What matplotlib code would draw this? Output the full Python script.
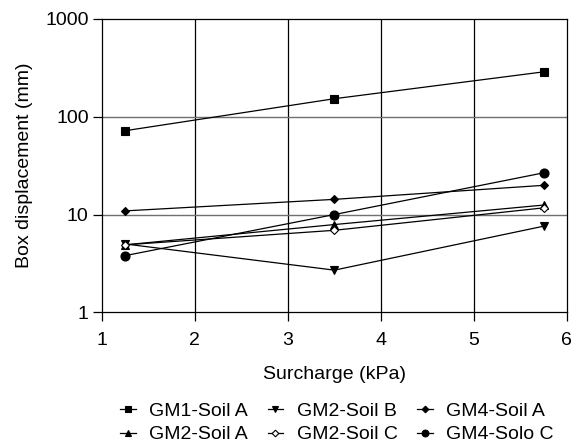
import matplotlib
matplotlib.use("Agg")
import matplotlib.pyplot as plt
from matplotlib.ticker import FixedLocator, NullLocator

plt.rcParams['font.family'] = ['Liberation Sans', 'DejaVu Sans']

surcharge = [1.25, 3.5, 5.75]
gm1_soil_a = [72, 153, 288]
gm2_soil_b = [5.0, 2.7, 7.6]
gm4_soil_a = [10.9, 14.3, 19.9]
gm2_soil_a = [4.9, 7.9, 12.5]
gm2_soil_c = [4.9, 6.9, 11.7]
gm4_solo_c = [3.8, 10.0, 26.7]

series = {
    "GM1-Soil A": (gm1_soil_a, dict(marker='s', markersize=6, mfc='black')),
    "GM2-Soil B": (gm2_soil_b, dict(marker='v', markersize=6, mfc='black')),
    "GM4-Soil A": (gm4_soil_a, dict(marker='D', markersize=4.5, mfc='black')),
    "GM2-Soil A": (gm2_soil_a, dict(marker='^', markersize=6, mfc='black')),
    "GM2-Soil C": (gm2_soil_c, dict(marker='D', markersize=4.5, mfc='white')),
    "GM4-Solo C": (gm4_solo_c, dict(marker='o', markersize=6.5, mfc='black')),
}
legend_order = ["GM1-Soil A", "GM2-Soil A", "GM2-Soil B",
                "GM2-Soil C", "GM4-Soil A", "GM4-Solo C"]

x_ticks = [1, 2, 3, 4, 5, 6]
y_ticks = [1, 10, 100, 1000]
y_tick_labels = ["1", "10", "100", "1000"]

FS = 14

fig = plt.figure(figsize=(5.79, 4.47), dpi=100)
ax = fig.add_axes([0.176, 0.3013, 0.803, 0.6562])

ax.set_yscale('log')
ax.set_xlim(1, 6)
ax.set_ylim(1, 1000)

handles = {}
for lbl, (vals, st) in series.items():
    h, = ax.plot(surcharge, vals, color='black', lw=0.9, mec='black', mew=0.8,
                 label=lbl, zorder=3, **st)
    handles[lbl] = h

ax.xaxis.set_major_locator(FixedLocator(x_ticks))
ax.yaxis.set_major_locator(FixedLocator(y_ticks))
ax.yaxis.set_minor_locator(NullLocator())
ax.set_yticklabels(y_tick_labels)
ax.set_xticklabels([str(t) for t in x_ticks])

for v in x_ticks[1:-1]:
    ax.axvline(v, color='black', lw=0.9, zorder=1)
for v in [10, 100]:
    ax.axhline(v, color='#707070', lw=1.0, zorder=1)

for s in ax.spines.values():
    s.set_linewidth(0.9)
    s.set_color('black')

ax.tick_params(axis='both', which='major', direction='out', length=6.5, width=0.9,
               labelsize=FS, color='black')
ax.tick_params(axis='x', pad=8)
ax.tick_params(axis='y', pad=3)

ax.set_xlabel("Surcharge (kPa)", fontsize=FS, labelpad=12)
ax.set_ylabel("Box displacement (mm)", fontsize=FS, labelpad=9)

leg = fig.legend([handles[k] for k in legend_order], legend_order,
                 loc='lower center', bbox_to_anchor=(0.582, -0.018), ncol=3,
                 frameon=False, fontsize=FS, handlelength=0.8, markerscale=0.75,
                 handletextpad=0.7, columnspacing=1.0, labelspacing=0.3,
                 borderaxespad=0.2)

fig.savefig("out.png", dpi=100)
